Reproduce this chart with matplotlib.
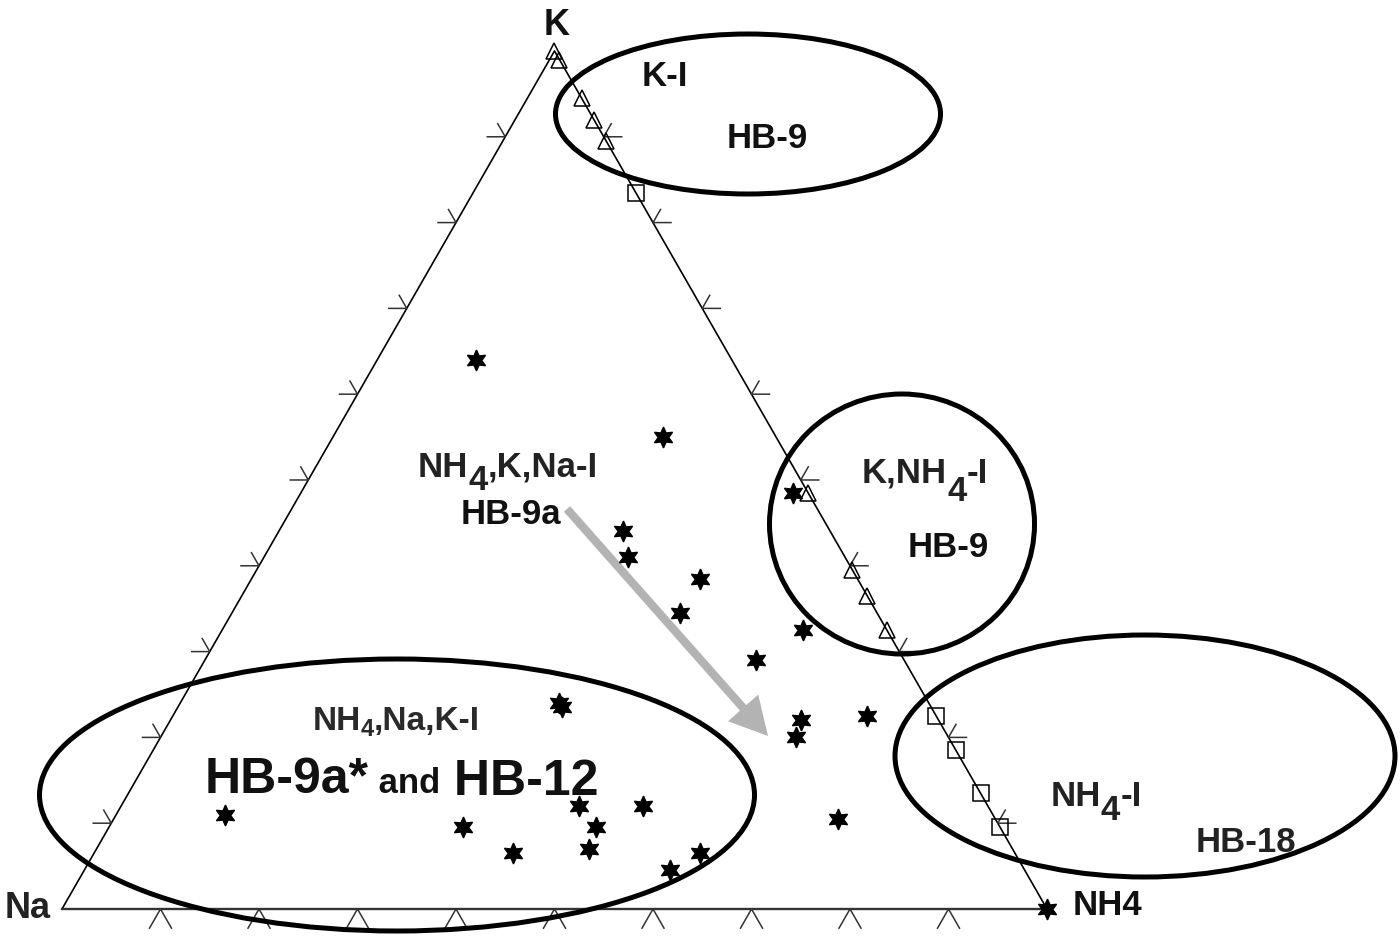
import numpy as np
import matplotlib.pyplot as plt
from matplotlib.patches import Ellipse, FancyArrowPatch

FONT = ['Liberation Sans', 'DejaVu Sans']
W, HGT = 1400, 945
H = np.sqrt(3) / 2

### ternary data, percent (Na, K, NH4)
star_na = [26, 11.5, 21, 22, 16, 20, 8.5, 15, 37.5, 37.5, 7, 14, 15.5, 78, 35, 41.5, 54.5, 41, 16, 51, 43, 32, 36, 1.5, 0]
star_k = [64, 55, 44, 41, 38.5, 34.5, 32.5, 29, 24, 23.5, 22.5, 22, 20, 11, 12, 12, 9.5, 9.5, 10.5, 6.5, 7, 6.5, 4.5, 48.5, 0]
star_nh4 = [10, 33.5, 35, 37, 45.5, 45.5, 59, 56, 38.5, 39, 70.5, 64, 64.5, 11, 53, 46.5, 36, 49.5, 73.5, 42.5, 50, 61.5, 59.5, 50, 100]

tri_k = [100, 99, 94.5, 92, 89.5, 48.5, 39.5, 36.5, 32.5]
tri_nh4 = [0, 1, 5.5, 8, 10.5, 51.5, 60.5, 63.5, 67.5]

sq_k = [83.5, 22.5, 18.5, 13.5, 9.5]
sq_nh4 = [16.5, 77.5, 81.5, 86.5, 90.5]


def tern(na, k, nh4):
    na, k, nh4 = (np.asarray(v, dtype=float) for v in (na, k, nh4))
    tot = na + k + nh4
    return nh4 / tot + 0.5 * k / tot, H * k / tot


def P(px, py):
    # reference pixel -> data coords
    return (px - 62) / 985, (910 - py) / 990.76


fig = plt.figure(figsize=(14, 9.45), dpi=100)
ax = fig.add_axes([0, 0, 1, 1])
ax.set_xlim(-62 / 985, 1338 / 985)
ax.set_ylim(-35 / 990.76, 910 / 990.76)
ax.axis('off')

### triangle frame
ax.plot([0, 0.5, 1], [0, H, 0], color='black', lw=1.2, zorder=2)
ax.plot([0, 1], [0, 0], color='#333333', lw=1.7, zorder=2)

### tick marks every 10%
lh, ld, lb = 18 / 985, 15 / 985, 22 / 985
for i in range(1, 10):
    f = i / 10
    # bottom
    ax.plot([f - 0.5 * lb, f, f + 0.5 * lb], [-H * lb, 0, -H * lb], color='#333333', lw=1.1)
    # left
    x, y = 0.5 * f, H * f
    ax.plot([x - lh, x, x - 0.5 * ld], [y, y, y + H * ld], color='#333333', lw=1.1)
    # right
    x, y = 1 - 0.5 * f, H * f
    ax.plot([x + lh, x, x + 0.5 * ld], [y, y, y + H * ld], color='#333333', lw=1.1)

### points
sx, sy = tern(star_na, star_k, star_nh4)
ax.plot(sx, sy, ls='none', marker=(6, 1, 0), ms=15, color='black', zorder=5)
tx, ty = tern(np.zeros(len(tri_k)), tri_k, tri_nh4)
ax.plot(tx, ty, ls='none', marker='^', ms=11, mfc='none', mec='black', mew=1.1, zorder=5)
qx, qy = tern(np.zeros(len(sq_k)), sq_k, sq_nh4)
ax.plot(qx, qy, ls='none', marker='s', ms=11, mfc='none', mec='black', mew=1.1, zorder=5)

### group ellipses (center px, width px, height px)
ellipses = [((748, 115), 385, 160), ((902, 525), 265, 260),
            ((1145, 757), 500, 242), ((397, 796), 715, 272)]
for (cx, cy), w, h in ellipses:
    ax.add_patch(Ellipse(P(cx, cy), w / 985, h / 990.76, fill=False,
                         lw=3.6, ec='black', zorder=6))

### grey arrow
ax.add_patch(FancyArrowPatch(P(567, 510), P(768, 737),
                             arrowstyle='simple,head_length=27,head_width=29,tail_width=6',
                             mutation_scale=1, color='#b3b3b3', lw=0,
                             shrinkA=0, shrinkB=0, zorder=4))

### labels
renderer = fig.canvas.get_renderer()


def chem(cx, base, parts, color='#111111'):
    # parts: (text, size, drop px) drawn side by side, centred on cx
    widths = []
    for s, size, dy in parts:
        t = fig.text(0, 0, s, fontsize=size, fontweight='bold', family=FONT)
        widths.append(t.get_window_extent(renderer).width)
        t.remove()
    x = cx - sum(widths) / 2
    for (s, size, dy), w in zip(parts, widths):
        fig.text(x / W, 1 - (base + dy) / HGT, s, fontsize=size, fontweight='bold',
                 family=FONT, ha='left', va='baseline', color=color, zorder=8)
        x += w


chem(665, 86, [("K-I", 25, 0)])
chem(767, 148, [("HB-9", 25, 0)])
chem(925, 483, [("K,NH", 25, 0), ("4", 25, 18), ("-I", 25, 0)], '#222222')
chem(948, 557, [("HB-9", 25, 0)])
chem(508, 477, [("NH", 25, 0), ("4", 25, 13), (",K,Na-I", 25, 0)], '#222222')
chem(511, 524, [("HB-9a", 25, 0)])
chem(396, 730, [("NH", 24, 0), ("4", 17, 6), (",Na,K-I", 24, 0)], '#2a2a2a')
chem(402, 793, [("HB-9a*", 36, 0), (" and", 25, 0), (" HB-12", 36, 2)])
chem(1096, 806, [("NH", 25, 0), ("4", 25, 14), ("-I", 25, 0)], '#222222')
chem(1246, 852, [("HB-18", 25, 0)], '#222222')
chem(28, 918, [("Na", 26, 0)], '#222222')
chem(1107, 915, [("NH4", 25, 0)])
chem(557, 35, [("K", 26, 0)])

fig.savefig('out.png', dpi=100)
